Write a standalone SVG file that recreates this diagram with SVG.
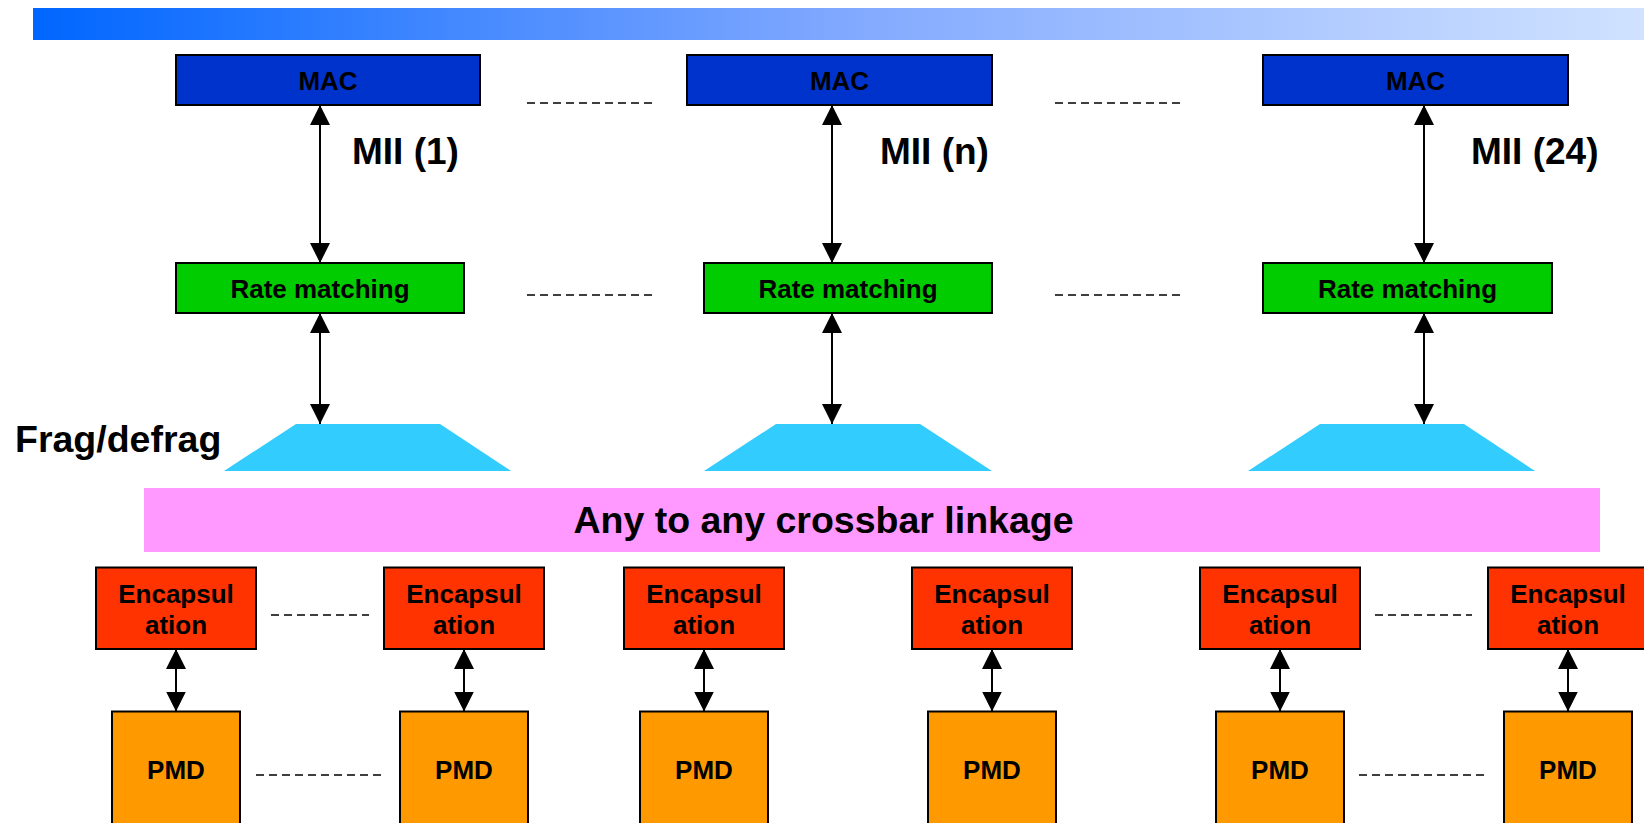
<svg xmlns="http://www.w3.org/2000/svg" width="1644" height="823" viewBox="0 0 1644 823">
<style>
text{font-family:"Liberation Sans",Arial,sans-serif;font-weight:bold;fill:#000}
.box{stroke:#000;stroke-width:2}
.mac{fill:#0033CC}
.rm{fill:#00CC00}
.enc{fill:#FF3300}
.pmd{fill:#FF9900}
.trap{fill:#33CCFF}
.lbl{font-size:26px;text-anchor:middle}
.big{font-size:37px}
.bigger{font-size:37.5px}
.link{stroke:#000;stroke-width:2;fill:none;marker-start:url(#ah);marker-end:url(#ah)}
.dots{stroke:#000;stroke-width:1.5;stroke-dasharray:8 5;fill:none}
</style>
<defs>
<linearGradient id="band" x1="0" y1="0" x2="1" y2="0">
<stop offset="0" stop-color="#0066FF"/>
<stop offset="0.5" stop-color="#80A8FF"/>
<stop offset="1" stop-color="#D0E2FF"/>
</linearGradient>
<marker id="ah" viewBox="0 0 20 20" refX="20" refY="10" markerWidth="20" markerHeight="20" markerUnits="userSpaceOnUse" orient="auto-start-reverse">
<path d="M0,0 L20,10 L0,20 Z" fill="#000"/>
</marker>
</defs>
<rect x="0" y="0" width="1644" height="823" fill="#fff"/>
<rect id="title-band" x="33" y="8" width="1611" height="32" fill="url(#band)"/>

<g id="mac1"><rect class="box mac" x="176" y="55" width="304" height="50"/><text class="lbl" x="328" y="90">MAC</text></g>
<g id="mac2"><rect class="box mac" x="687" y="55" width="305" height="50"/><text class="lbl" x="839.5" y="90">MAC</text></g>
<g id="mac3"><rect class="box mac" x="1263" y="55" width="305" height="50"/><text class="lbl" x="1415.5" y="90">MAC</text></g>

<g id="mii-labels">
<text class="big" x="352" y="164">MII (1)</text>
<text class="big" x="880" y="164">MII (n)</text>
<text class="big" x="1471" y="164">MII (24)</text>
</g>

<g id="rm1"><rect class="box rm" x="176" y="263" width="288" height="50"/><text class="lbl" x="320" y="297.5">Rate matching</text></g>
<g id="rm2"><rect class="box rm" x="704" y="263" width="288" height="50"/><text class="lbl" x="848" y="297.5">Rate matching</text></g>
<g id="rm3"><rect class="box rm" x="1263" y="263" width="289" height="50"/><text class="lbl" x="1407.5" y="297.5">Rate matching</text></g>

<g id="frag-label"><text class="bigger" x="15" y="452">Frag/defrag</text></g>
<g id="frag1"><polygon class="trap" points="224,471 296,424 440,424 511,471"/></g>
<g id="frag2"><polygon class="trap" points="704,471 776,424 920,424 992,471"/></g>
<g id="frag3"><polygon class="trap" points="1248,471 1320,424 1464,424 1535,471"/></g>

<g id="crossbar"><rect x="144" y="488" width="1456" height="64" fill="#FF99FF"/><text class="bigger" x="823.5" y="533" text-anchor="middle">Any to any crossbar linkage</text></g>

<g id="enc1"><rect class="box enc" x="96" y="567.5" width="160" height="81.5"/><text class="lbl" x="176" y="602.5">Encapsul</text><text class="lbl" x="176" y="633.5">ation</text></g>
<g id="enc2"><rect class="box enc" x="384" y="567.5" width="160" height="81.5"/><text class="lbl" x="464" y="602.5">Encapsul</text><text class="lbl" x="464" y="633.5">ation</text></g>
<g id="enc3"><rect class="box enc" x="624" y="567.5" width="160" height="81.5"/><text class="lbl" x="704" y="602.5">Encapsul</text><text class="lbl" x="704" y="633.5">ation</text></g>
<g id="enc4"><rect class="box enc" x="912" y="567.5" width="160" height="81.5"/><text class="lbl" x="992" y="602.5">Encapsul</text><text class="lbl" x="992" y="633.5">ation</text></g>
<g id="enc5"><rect class="box enc" x="1200" y="567.5" width="160" height="81.5"/><text class="lbl" x="1280" y="602.5">Encapsul</text><text class="lbl" x="1280" y="633.5">ation</text></g>
<g id="enc6"><rect class="box enc" x="1488" y="567.5" width="160" height="81.5"/><text class="lbl" x="1568" y="602.5">Encapsul</text><text class="lbl" x="1568" y="633.5">ation</text></g>

<g id="pmd1"><rect class="box pmd" x="112" y="711.5" width="128" height="125"/><text class="lbl" x="176" y="778.5">PMD</text></g>
<g id="pmd2"><rect class="box pmd" x="400" y="711.5" width="128" height="125"/><text class="lbl" x="464" y="778.5">PMD</text></g>
<g id="pmd3"><rect class="box pmd" x="640" y="711.5" width="128" height="125"/><text class="lbl" x="704" y="778.5">PMD</text></g>
<g id="pmd4"><rect class="box pmd" x="928" y="711.5" width="128" height="125"/><text class="lbl" x="992" y="778.5">PMD</text></g>
<g id="pmd5"><rect class="box pmd" x="1216" y="711.5" width="128" height="125"/><text class="lbl" x="1280" y="778.5">PMD</text></g>
<g id="pmd6"><rect class="box pmd" x="1504" y="711.5" width="128" height="125"/><text class="lbl" x="1568" y="778.5">PMD</text></g>

<g id="connectors">
<line class="link" x1="320" y1="105" x2="320" y2="263"/>
<line class="link" x1="832" y1="105" x2="832" y2="263"/>
<line class="link" x1="1424" y1="105" x2="1424" y2="263"/>
<line class="link" x1="320" y1="313" x2="320" y2="424"/>
<line class="link" x1="832" y1="313" x2="832" y2="424"/>
<line class="link" x1="1424" y1="313" x2="1424" y2="424"/>
<line class="link" x1="176" y1="649" x2="176" y2="711.5"/>
<line class="link" x1="464" y1="649" x2="464" y2="711.5"/>
<line class="link" x1="704" y1="649" x2="704" y2="711.5"/>
<line class="link" x1="992" y1="649" x2="992" y2="711.5"/>
<line class="link" x1="1280" y1="649" x2="1280" y2="711.5"/>
<line class="link" x1="1568" y1="649" x2="1568" y2="711.5"/>
<line class="dots" x1="527" y1="103" x2="657" y2="103"/>
<line class="dots" x1="1055" y1="103" x2="1185" y2="103"/>
<line class="dots" x1="527" y1="295" x2="657" y2="295"/>
<line class="dots" x1="1055" y1="295" x2="1185" y2="295"/>
<line class="dots" x1="271" y1="615" x2="369" y2="615"/>
<line class="dots" x1="1375" y1="615" x2="1472" y2="615"/>
<line class="dots" x1="256" y1="775" x2="384" y2="775"/>
<line class="dots" x1="1359" y1="775" x2="1488" y2="775"/>
</g>
</svg>
